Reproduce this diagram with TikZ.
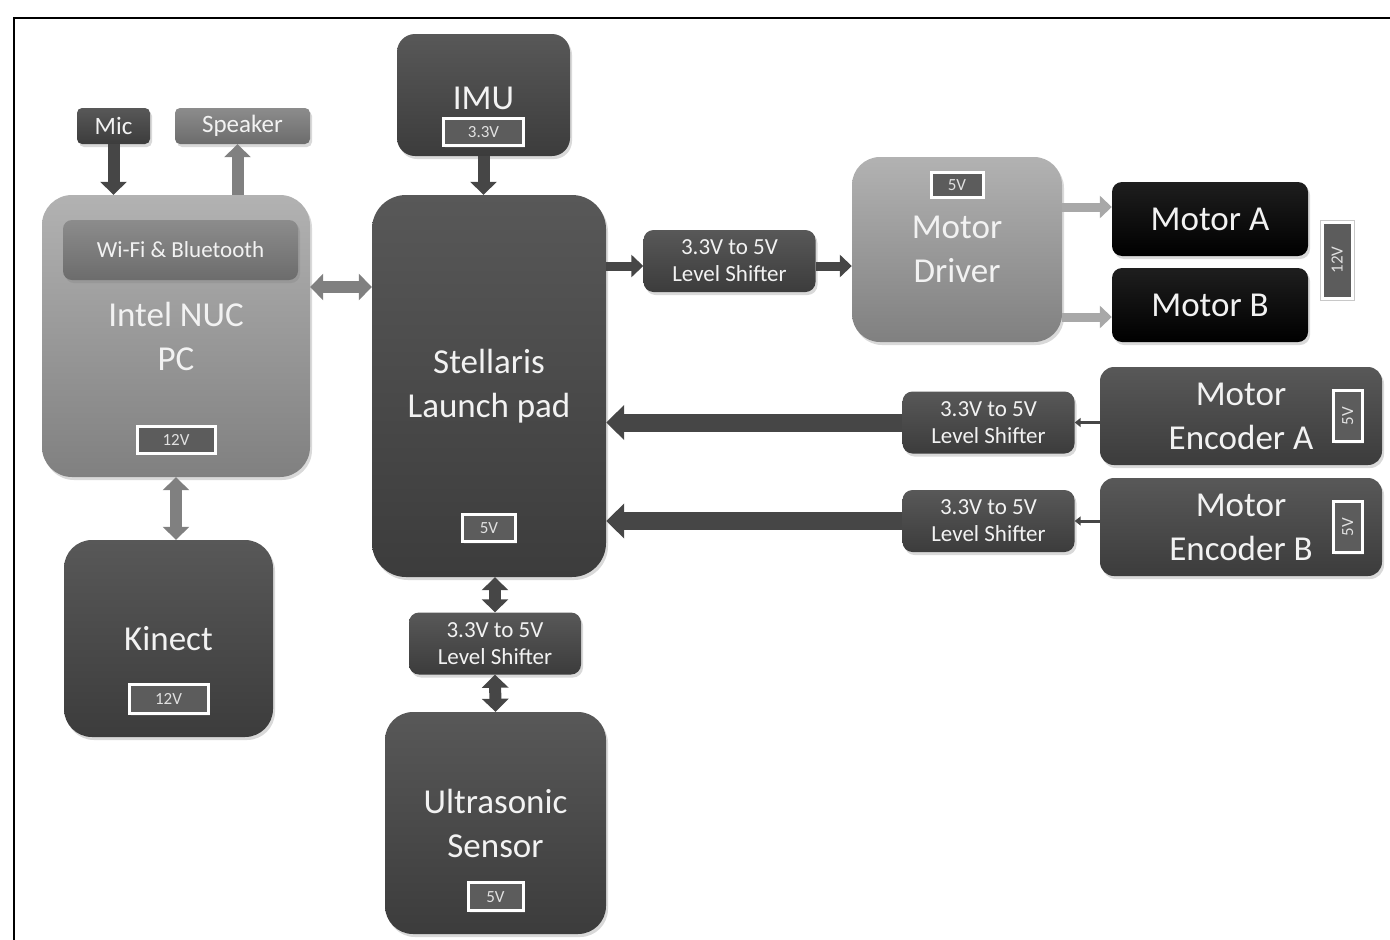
\documentclass[tikz,border=0pt]{standalone}
\usepackage{fontspec}
\setmainfont{Carlito}
\usepackage{tikz}
\usetikzlibrary{arrows.meta, positioning, shadows}
\definecolor{DarkTop}{RGB}{88, 88, 88}
\definecolor{DarkBot}{RGB}{60, 60, 60}
\definecolor{MidTop}{RGB}{140, 140, 140}
\definecolor{MidBot}{RGB}{108, 108, 108}
\definecolor{LightTop}{RGB}{178, 178, 178}
\definecolor{LightBot}{RGB}{128, 128, 128}
\definecolor{MotorTop}{RGB}{30, 30, 30}
\definecolor{TagFill}{RGB}{92, 92, 92}
\definecolor{TagText}{RGB}{225, 225, 225}
\definecolor{TagEdge}{RGB}{200, 200, 200}
\definecolor{BoxText}{RGB}{242, 242, 242}
\definecolor{WireDark}{RGB}{70, 70, 70}
\definecolor{WireMid}{RGB}{128, 128, 128}
\definecolor{WireLight}{RGB}{168, 168, 168}
\newcommand{\bigfnt}{\fontsize{35}{44}\selectfont}
\newcommand{\lsfnt}{\fontsize{23}{27}\selectfont}
\newcommand{\smfnt}{\fontsize{25}{25}\selectfont}
\newcommand{\tagfnt}{\fontsize{17}{17}\selectfont}

\begin{document}
\begin{tikzpicture}[
        x=1pt, y=-1pt,
        blk/.style={inner sep=0pt, align=center, text=BoxText, font=\bigfnt,
            drop shadow={opacity=0.3, shadow xshift=2pt, shadow yshift=-3pt}},
        dark/.style={blk, top color=DarkTop, bottom color=DarkBot},
        mid/.style={blk, top color=MidTop, bottom color=MidBot},
        light/.style={blk, top color=LightTop, bottom color=LightBot},
        motor/.style={blk, top color=MotorTop, bottom color=black, rounded corners=10pt,
            minimum width=196pt, minimum height=74pt},
        shifter/.style={dark, font=\lsfnt, rounded corners=10pt, minimum width=172pt, minimum height=62pt},
        encoder/.style={dark, rounded corners=14pt, minimum width=282pt, minimum height=98pt},
        vtag/.style={draw=white, line width=3pt, fill=TagFill, text=TagText, font=\tagfnt, inner sep=0pt,
            drop shadow={opacity=0.25, shadow xshift=1.5pt, shadow yshift=-2pt}},
        bigflow/.style={line width=18pt, -{Triangle[length=18pt,width=34pt]}},
        midflow/.style={line width=12pt, -{Triangle[length=13pt,width=26pt]}},
        twoway/.style={line width=12pt, {Triangle[length=13pt,width=26pt]}-{Triangle[length=13pt,width=26pt]}},
        slimflow/.style={line width=9pt, -{Triangle[length=12pt,width=22pt]}},
        thinflow/.style={line width=3pt, -{Triangle[length=6pt,width=9pt]}}
    ]
    \useasboundingbox (0,0) rectangle (1390,940);

    % frame
    \draw[line width=1.5pt] (14,940) -- (14,18) -- (1390,18);

    % audio
    \node[dark, font=\smfnt, rounded corners=5pt, minimum width=73pt, minimum height=36pt] (mic) at (113.5,126) {Mic};
    \node[mid, font=\smfnt, rounded corners=5pt, minimum width=135pt, minimum height=36pt] (spk) at (242.5,126) {Speaker};

    % PC and Kinect
    \node[light, rounded corners=30pt, minimum width=268pt, minimum height=282pt] (nuc) at (176,336) {Intel NUC\\PC};
    \node[mid, font=\lsfnt, rounded corners=9pt, minimum width=235pt, minimum height=60pt] (wifi) at (180.5,250) {Wi-Fi \& Bluetooth};
    \node[vtag, minimum width=78pt, minimum height=27pt, above=22pt of nuc.south] (nucV) {12V};
    \node[dark, rounded corners=28pt, minimum width=209pt, minimum height=197pt] (kin) at (168.5,638.5) {Kinect};
    \node[vtag, minimum width=79pt, minimum height=29pt, above=22pt of kin.south] (kinV) {12V};

    % controller, IMU, ultrasonic
    \node[dark, rounded corners=34pt, minimum width=234pt, minimum height=382pt] (stel) at (489,386) {Stellaris\\Launch pad};
    \node[vtag, minimum width=53pt, minimum height=27pt, above=34pt of stel.south] (stelV) {5V};
    \node[dark, rounded corners=18pt, minimum width=173pt, minimum height=122pt, text height=30pt] (imu) at (483.5,95) {IMU};
    \node[vtag, minimum width=80pt, minimum height=27pt, above=9pt of imu.south] (imuV) {3.3V};
    \node[shifter] (lsbot) at (495,643.5) {3.3V to 5V\\Level Shifter};
    \node[dark, rounded corners=28pt, minimum width=221pt, minimum height=222pt] (us) at (495.5,823) {Ultrasonic\\Sensor};
    \node[vtag, minimum width=55pt, minimum height=28pt, above=22pt of us.south] (usV) {5V};

    % motors
    \node[shifter] (lsmot) at (729.5,261) {3.3V to 5V\\Level Shifter};
    \node[light, rounded corners=28pt, minimum width=210pt, minimum height=185pt] (md) at (957,249.5) {Motor\\Driver};
    \node[vtag, minimum width=52pt, minimum height=25pt, below=14pt of md.north] (mdV) {5V};
    \node[motor] (mota) at (1210,219) {Motor A};
    \node[motor] (motb) at (1210,305) {Motor B};
    \node[vtag, rotate=90, minimum width=76pt, minimum height=30pt,
        preaction={draw=TagEdge, line width=5pt}] (motV) at (1337,260) {12V};

    % encoders
    \node[shifter] (lsa) at (988.5,422.5) {3.3V to 5V\\Level Shifter};
    \node[shifter] (lsb) at (988.5,521) {3.3V to 5V\\Level Shifter};
    \node[encoder] (enca) at (1241,416) {Motor\\Encoder A};
    \node[encoder] (encb) at (1241,527) {Motor\\Encoder B};
    \node[vtag, rotate=90, minimum width=51pt, minimum height=29pt] (encaV) at ([xshift=-34.5pt]enca.east) {5V};
    \node[vtag, rotate=90, minimum width=51pt, minimum height=29pt] (encbV) at ([xshift=-34.5pt]encb.east) {5V};

    % connections
    \draw[midflow, WireDark] (mic.south) -- (mic.south |- nuc.north);
    \draw[midflow, WireMid] ([xshift=-5pt]spk.south |- nuc.north) -- ([xshift=-5pt]spk.south);
    \draw[twoway, WireMid] (nuc.south) -- (nuc.south |- kin.north);
    \draw[twoway, WireMid] ([yshift=49pt]nuc.east) -- ([yshift=49pt]nuc.east -| stel.west);
    \draw[midflow, WireDark] (imu.south) -- (imu.south |- stel.north);
    \draw[twoway, WireDark] (lsbot.north |- stel.south) -- (lsbot.north);
    \draw[twoway, WireDark] (lsbot.south) -- (us.north);
    \draw[slimflow, WireDark] ([yshift=-5pt]lsmot.west -| stel.east) -- ([yshift=-5pt]lsmot.west);
    \draw[slimflow, WireDark] ([yshift=-5pt]lsmot.east) -- ([yshift=-5pt]lsmot.east -| md.west);
    \draw[slimflow, WireLight] ([yshift=12pt]mota.west -| md.east) -- ([yshift=12pt]mota.west);
    \draw[slimflow, WireLight] ([yshift=-12pt]motb.west -| md.east) -- ([yshift=-12pt]motb.west);
    \draw[thinflow, WireDark] (enca.west |- lsa.east) -- (lsa.east);
    \draw[thinflow, WireDark] (encb.west |- lsb.east) -- (lsb.east);
    \draw[bigflow, WireDark] (lsa.west) -- (lsa.west -| stel.east);
    \draw[bigflow, WireDark] (lsb.west) -- (lsb.west -| stel.east);

\end{tikzpicture}
\end{document}
